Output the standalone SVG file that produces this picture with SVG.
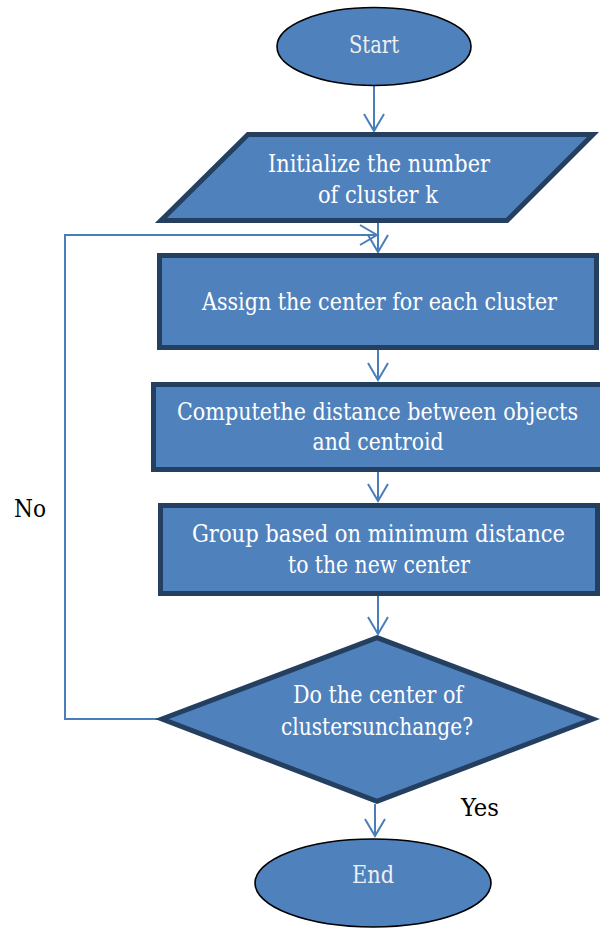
<svg xmlns="http://www.w3.org/2000/svg" width="600" height="930" viewBox="0 0 600 930">
<style>
.node{fill:#4F81BD;stroke:#243F60;stroke-width:5}
.term{fill:#4F81BD;stroke:#000;stroke-width:1.6}
.t{font-family:'DejaVu Serif','Liberation Serif',serif;font-stretch:condensed;font-size:24px;fill:#fff;text-anchor:middle}
.lbl{font-family:'DejaVu Serif','Liberation Serif',serif;font-stretch:condensed;font-size:24px;fill:#000}
.c{fill:none;stroke:#4A7EBB;stroke-width:2}
</style>
<defs>
<marker id="arr" viewBox="-19 -12 21 24" refX="0" refY="0" markerWidth="21" markerHeight="24" markerUnits="userSpaceOnUse" orient="auto">
<path d="M-17,-10 L0,0 L-17,10" fill="none" stroke="#4A7EBB" stroke-width="2"/>
</marker>
</defs>
<rect width="600" height="930" fill="#fff"/>
<g id="connectors">
<line class="c" x1="374" y1="86" x2="374" y2="131" marker-end="url(#arr)"/>
<line class="c" x1="378" y1="222" x2="378" y2="252" marker-end="url(#arr)"/>
<polyline class="c" points="158,719 65,719 65,235 377,235" marker-end="url(#arr)"/>
<line class="c" x1="378" y1="349" x2="378" y2="380" marker-end="url(#arr)"/>
<line class="c" x1="378" y1="471" x2="378" y2="501" marker-end="url(#arr)"/>
<line class="c" x1="378" y1="596" x2="378" y2="634" marker-end="url(#arr)"/>
<line class="c" x1="375" y1="804" x2="375" y2="836" marker-end="url(#arr)"/>
</g>
<g id="start">
<ellipse class="term" cx="374" cy="46.5" rx="97" ry="39"/>
<text class="t" x="374" y="53" style="fill:#eee" textLength="50" lengthAdjust="spacingAndGlyphs">Start</text>
</g>
<g id="init">
<polygon class="node" points="248,134.5 593,134.5 507,220.5 161,220.5"/>
<text class="t" x="379" y="172" textLength="222" lengthAdjust="spacingAndGlyphs">Initialize the number</text>
<text class="t" x="378" y="203" textLength="120" lengthAdjust="spacingAndGlyphs">of cluster k</text>
</g>
<g id="assign">
<rect class="node" x="159.5" y="255.5" width="437" height="92"/>
<text class="t" x="379.5" y="310" textLength="355" lengthAdjust="spacingAndGlyphs">Assign the center for each cluster</text>
</g>
<g id="compute">
<rect class="node" x="153.5" y="384.5" width="452" height="85"/>
<text class="t" x="377.5" y="420" textLength="401" lengthAdjust="spacingAndGlyphs">Computethe distance between objects</text>
<text class="t" x="378" y="450" textLength="131" lengthAdjust="spacingAndGlyphs">and centroid</text>
</g>
<g id="group">
<rect class="node" x="160.5" y="505.5" width="437" height="88"/>
<text class="t" x="378.5" y="542" textLength="373" lengthAdjust="spacingAndGlyphs">Group based on minimum distance</text>
<text class="t" x="379" y="573" textLength="182" lengthAdjust="spacingAndGlyphs">to the new center</text>
</g>
<g id="decision">
<polygon class="node" points="377,637.7 593,719 377,801.3 162,719"/>
<text class="t" x="378" y="703" textLength="170" lengthAdjust="spacingAndGlyphs">Do the center of</text>
<text class="t" x="377" y="735" textLength="192" lengthAdjust="spacingAndGlyphs">clustersunchange?</text>
</g>
<g id="end">
<ellipse class="term" cx="373" cy="883" rx="118" ry="44"/>
<text class="t" x="373" y="883" style="fill:#eee" textLength="42" lengthAdjust="spacingAndGlyphs">End</text>
</g>
<text class="lbl" x="14" y="517" textLength="32" lengthAdjust="spacingAndGlyphs">No</text>
<text class="lbl" x="461" y="816" textLength="38" lengthAdjust="spacingAndGlyphs">Yes</text>
</svg>
